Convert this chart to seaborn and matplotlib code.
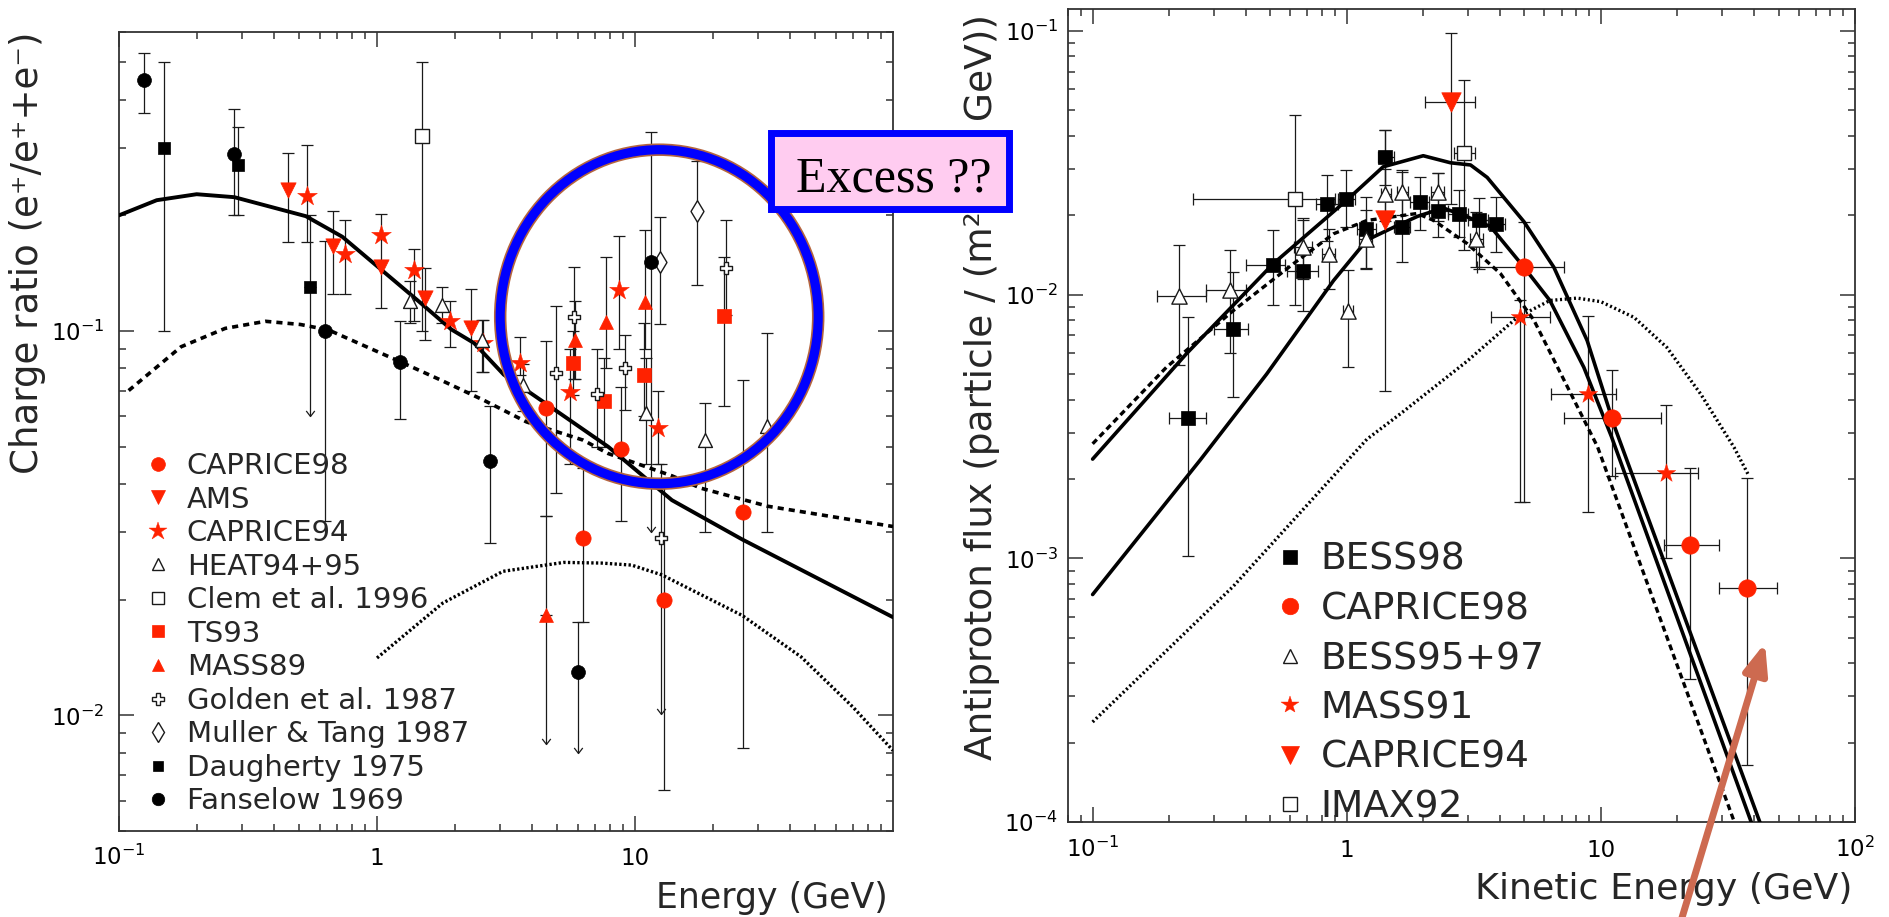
import numpy as np
import matplotlib
matplotlib.use("Agg")
import matplotlib.pyplot as plt
import seaborn as sns
from matplotlib.path import Path
from matplotlib.lines import Line2D
from matplotlib.patches import Ellipse, Rectangle
from matplotlib.ticker import FixedLocator, FixedFormatter, NullFormatter, LogLocator

# ===================== LEFT PANEL : positron charge ratio =====================
left_solid_E = [0.1, 0.14, 0.2, 0.28, 0.53, 0.733, 1.44, 1.94, 2.38, 3.1, 4.33, 7.87, 13.9, 26, 100]
left_solid_R = [0.20, 0.219, 0.227, 0.223, 0.199, 0.176, 0.12, 0.101, 0.093, 0.077, 0.066, 0.050, 0.0363, 0.0287, 0.018]
left_dash_E = [0.109, 0.174, 0.258, 0.37, 0.505, 0.65, 1.24, 1.77, 2.6, 3.8, 6.3, 7.87, 13.9, 18, 32.7, 100]
left_dash_R = [0.070, 0.091, 0.1016, 0.106, 0.104, 0.1006, 0.083, 0.0745, 0.066, 0.058, 0.052, 0.048, 0.042, 0.039, 0.035, 0.031]
left_dot_E = [1.0, 1.8, 3.08, 5.3, 7.4, 9.7, 12.7, 26, 44, 70, 100]
left_dot_R = [0.0141, 0.0196, 0.0237, 0.025, 0.0249, 0.0246, 0.0232, 0.0182, 0.0142, 0.0105, 0.0081]

c98_E = [4.5, 6.3, 8.8, 12.9, 26.2]
c98_R = [0.063, 0.029, 0.0492, 0.020, 0.0339]
c98_lo = [0.033, 0.0175, 0.032, 0.0064, 0.0082]
c98_hi = [0.094, 0.044, 0.0713, 0.040, 0.0745]

ams_E = [0.45, 0.676, 1.04, 1.54, 2.32]
ams_R = [0.233, 0.166, 0.147, 0.122, 0.1016]
ams_lo = [0.170, 0.125, 0.115, 0.095, 0.070]
ams_hi = [0.29, 0.205, 0.152, 0.146, 0.129]

c94_E = [0.536, 0.75, 1.04, 1.39, 1.92, 2.57, 3.57, 5.59, 8.67, 12.25]
c94_R = [0.224, 0.159, 0.178, 0.144, 0.106, 0.093, 0.0824, 0.0695, 0.128, 0.0558]
c94_lo = [0.17, 0.125, 0.152, 0.106, 0.091, 0.078, 0.077, 0.045, 0.090, 0.045]
c94_hi = [0.304, 0.194, 0.202, 0.163, 0.12, 0.107, 0.0966, 0.09, 0.177, 0.07]

heat_E = [1.34, 1.78, 2.55, 3.68, 11.0, 18.6, 32.5]
heat_R = [0.12, 0.117, 0.095, 0.0723, 0.0613, 0.052, 0.0566]
heat_lo = [0.105, 0.105, 0.078, 0.062, 0.045, 0.030, 0.030]
heat_hi = [0.135, 0.13, 0.107, 0.082, 0.085, 0.065, 0.099]

clem_E = [1.49]
clem_R = [0.321]
clem_lo = [0.1]
clem_hi = [0.5]

ts_E = [5.75, 7.57, 10.8, 22.2]
ts_R = [0.0824, 0.0659, 0.0768, 0.1096]
ts_lo = [0.068, 0.05, 0.06, 0.064]
ts_hi = [0.1, 0.085, 0.105, 0.156]

m89_E = [4.53, 5.84, 7.7, 10.9]
m89_R = [0.0182, 0.0948, 0.1057, 0.119]
m89_lo = [0.0084, 0.075, 0.08, 0.09]
m89_hi = [0.033, 0.12, 0.156, 0.183]
m89_lim = [True, False, False, False]

gold_E = [4.95, 5.8, 7.1, 9.14, 12.6, 22.6]
gold_R = [0.0776, 0.1086, 0.0686, 0.0802, 0.0289, 0.146]
gold_lo = [0.038, 0.075, 0.05, 0.0622, 0.0101, 0.11]
gold_hi = [0.116, 0.147, 0.09, 0.0977, 0.045, 0.194]
gold_lim = [False, False, False, False, True, False]

mt_E = [12.5, 17.4]
mt_R = [0.151, 0.205]
mt_lo = [0.104, 0.132]
mt_hi = [0.198, 0.277]

dau_E = [0.15, 0.29, 0.55]
dau_R = [0.30, 0.27, 0.13]
dau_lo = [0.1, 0.2, 0.06]
dau_hi = [0.5, 0.34, 0.2]
dau_lim = [False, False, True]

fan_E = [0.125, 0.28, 0.63, 1.23, 2.74, 6.0, 11.5]
fan_R = [0.45, 0.289, 0.1, 0.083, 0.046, 0.013, 0.151]
fan_lo = [0.37, 0.20, 0.032, 0.059, 0.028, 0.008, 0.030]
fan_hi = [0.53, 0.379, 0.171, 0.106, 0.064, 0.0175, 0.33]
fan_lim = [False, False, False, False, False, True, True]

left_legend_labels = ["CAPRICE98", "AMS", "CAPRICE94", "HEAT94+95", "Clem et al. 1996", "TS93",
                      "MASS89", "Golden et al. 1987", "Muller & Tang 1987", "Daugherty 1975", "Fanselow 1969"]

# ===================== RIGHT PANEL : antiproton flux =====================
r_up_E = [0.1, 0.234, 0.514, 1.0, 1.39, 2.0, 2.56, 3.07, 3.57, 4.98, 6.53, 8.83, 11.4, 46]
r_up_F = [0.00238, 0.00597, 0.0131, 0.0228, 0.0305, 0.0336, 0.0316, 0.031, 0.0278, 0.0189, 0.0127, 0.0067, 0.0031, 0.00008]
r_mid_E = [0.1, 0.265, 0.484, 0.887, 1.2, 1.53, 1.9, 2.4, 2.98, 3.68, 4.98, 6.3, 8.57, 11.0, 42.5]
r_mid_F = [0.00073, 0.00236, 0.005, 0.0113, 0.0161, 0.018, 0.0198, 0.0213, 0.0197, 0.0181, 0.0127, 0.0095, 0.0053, 0.0029, 0.00008]
r_dash_E = [0.1, 0.195, 0.358, 0.617, 0.887, 1.2, 1.89, 2.2, 2.98, 4.03, 5.45, 7.36, 9.7, 36.5]
r_dash_F = [0.00272, 0.0053, 0.0087, 0.0131, 0.017, 0.0191, 0.0203, 0.0191, 0.0156, 0.012, 0.008, 0.0045, 0.00265, 0.00008]
r_dot_E = [0.1, 0.358, 1.2, 1.63, 2.98, 4.69, 6.3, 8.07, 10, 13.5, 18.2, 24.7, 33.4, 38.2]
r_dot_F = [0.00024, 0.000785, 0.00283, 0.00354, 0.0056, 0.0082, 0.0095, 0.0097, 0.0094, 0.0082, 0.0063, 0.0042, 0.00264, 0.00206]

bess98_E = [0.238, 0.358, 0.514, 0.671, 0.834, 0.99, 1.19, 1.42, 1.65, 1.94, 2.28, 2.77, 3.3, 3.85]
bess98_F = [0.0034, 0.0074, 0.013, 0.0123, 0.0221, 0.0231, 0.0178, 0.0331, 0.0181, 0.0225, 0.0208, 0.0202, 0.0191, 0.0185]
bess98_lo = [0.00102, 0.0041, 0.0091, 0.0087, 0.0160, 0.018, 0.0126, 0.026, 0.0133, 0.0175, 0.0165, 0.0165, 0.0125, 0.0145]
bess98_hi = [0.0082, 0.0122, 0.0175, 0.0191, 0.0284, 0.0296, 0.0234, 0.042, 0.0292, 0.028, 0.0288, 0.025, 0.0232, 0.0235]
bess98_xlo = [0.2, 0.30, 0.40, 0.58, 0.76, 0.92, 1.1, 1.33, 1.53, 1.78, 2.1, 2.5, 3.0, 3.6]
bess98_xhi = [0.28, 0.41, 0.57, 0.77, 0.92, 1.08, 1.3, 1.53, 1.78, 2.1, 2.5, 3.0, 3.6, 4.2]

bess95_E = [0.219, 0.347, 0.67, 0.851, 1.01, 1.19, 1.42, 1.65, 2.28, 3.24]
bess95_F = [0.0099, 0.0104, 0.0152, 0.0143, 0.0087, 0.0163, 0.0241, 0.0244, 0.0244, 0.0163]
bess95_lo = [0.0054, 0.0060, 0.0115, 0.0105, 0.0053, 0.0125, 0.019, 0.020, 0.019, 0.0127]
bess95_hi = [0.0154, 0.0148, 0.0195, 0.0178, 0.0124, 0.021, 0.030, 0.0296, 0.029, 0.0205]
bess95_xlo = [0.18, 0.28, 0.62, 0.80, 0.97, 1.12, 1.36, 1.58, 2.15, 3.05]
bess95_xhi = [0.28, 0.40, 0.73, 0.90, 1.06, 1.26, 1.49, 1.74, 2.42, 3.45]

c98r_E = [4.98, 11.1, 22.4, 37.7]
c98r_F = [0.0127, 0.0034, 0.00112, 0.00077]
c98r_lo = [0.00163, 0.00205, 0.00035, 0.000165]
c98r_hi = [0.0189, 0.0052, 0.0022, 0.00202]
c98r_xlo = [3.26, 7.15, 17.7, 29.2]
c98r_xhi = [7.15, 17.2, 29.2, 49.2]

m91_E = [4.8, 8.9, 18.0]
m91_F = [0.0082, 0.0042, 0.00211]
m91_lo = [0.00163, 0.0015, 0.001]
m91_hi = [0.0095, 0.0083, 0.0038]
m91_xlo = [3.7, 6.34, 11.4]
m91_xhi = [6.28, 11.5, 24.2]

c94r_E = [1.42, 2.58]
c94r_F = [0.0191, 0.0538]
c94r_lo = [0.0043, 0.022]
c94r_hi = [0.042, 0.098]
c94r_xlo = [1.42, 2.04]
c94r_xhi = [1.42, 3.21]

imax_E = [0.625, 2.89]
imax_F = [0.0231, 0.0343]
imax_lo = [0.0091, 0.0147]
imax_hi = [0.0479, 0.065]
imax_xlo = [0.248, 2.64]
imax_xhi = [0.9, 3.21]

right_legend_labels = ["BESS98", "CAPRICE98", "BESS95+97", "MASS91", "CAPRICE94", "IMAX92"]

# ============================ styling ============================
sns.set_style("ticks")
plt.rcParams["font.family"] = ["DejaVu Sans"]
plt.rcParams["mathtext.default"] = "regular"

RED = "#ff2200"
INK = "#1a1a1a"
W, H = 1890, 917

fig = plt.figure(figsize=(18.9, 9.17), dpi=100)
axL = fig.add_axes([119 / W, 1 - 831 / H, 774 / W, 799 / H])
axR = fig.add_axes([1068 / W, 1 - 822.3 / H, 787 / W, 813 / H])

CHEVRON = Path([(-1.0, 1.3), (0.0, 0.0), (1.0, 1.3)], [Path.MOVETO, Path.LINETO, Path.LINETO])


def draw_points(ax, E, V, lo, hi, marker, face, edge, ms, xlo=None, xhi=None, lims=None, mew=1.0, cap=4.6):
    E = np.asarray(E, float)
    V = np.asarray(V, float)
    lo = np.asarray(lo, float)
    hi = np.asarray(hi, float)
    lims = np.zeros(len(E), bool) if lims is None else np.asarray(lims, bool)
    nl = ~lims
    xerr = None
    if xlo is not None:
        xlo = np.asarray(xlo, float)
        xhi = np.asarray(xhi, float)
    if nl.any():
        if xlo is not None:
            xerr = [E[nl] - xlo[nl], xhi[nl] - E[nl]]
        ax.errorbar(E[nl], V[nl], yerr=[V[nl] - lo[nl], hi[nl] - V[nl]], xerr=xerr, fmt="none",
                    ecolor=INK, elinewidth=0.9, capsize=cap, capthick=0.9, zorder=2)
    if lims.any():
        ax.errorbar(E[lims], V[lims], yerr=[np.zeros(lims.sum()), hi[lims] - V[lims]], fmt="none",
                    ecolor=INK, elinewidth=0.9, capsize=cap, capthick=0.9, zorder=2)
        ax.vlines(E[lims], lo[lims], V[lims], color=INK, lw=0.9, zorder=2)
        ax.plot(E[lims], lo[lims], ls="none", marker=CHEVRON, ms=8, mfc="none", mec=INK, mew=0.9, zorder=2)
    sns.scatterplot(x=E, y=V, ax=ax, marker=marker, s=ms ** 2, color=face, edgecolor=edge,
                    linewidth=mew, zorder=5, legend=False)


def style_axes(ax, xlim, ylim, xt, xtl, yt, ytl, xpad, ypad):
    ax.set_xscale("log")
    ax.set_yscale("log")
    ax.set_xlim(*xlim)
    ax.set_ylim(*ylim)
    ax.xaxis.set_major_locator(FixedLocator(xt))
    ax.xaxis.set_major_formatter(FixedFormatter(xtl))
    ax.yaxis.set_major_locator(FixedLocator(yt))
    ax.yaxis.set_major_formatter(FixedFormatter(ytl))
    for a in (ax.xaxis, ax.yaxis):
        a.set_minor_locator(LogLocator(base=10, subs=np.arange(2, 10), numticks=60))
        a.set_minor_formatter(NullFormatter())
    ax.tick_params(which="both", direction="in", top=True, right=True, width=1.1, color="#333333",
                   labelsize=16.5, labelcolor="black")
    ax.tick_params(which="major", length=11)
    ax.tick_params(which="minor", length=5)
    ax.tick_params(axis="x", which="major", pad=xpad)
    ax.tick_params(axis="y", which="major", pad=ypad)
    for s in ax.spines.values():
        s.set_linewidth(1.3)
        s.set_color("#333333")
    ax.grid(False)


# ---------------- left panel ----------------
style_axes(axL, (0.1, 100), (0.005, 0.6), [0.1, 1, 10], ["$10^{-1}$", "1", "10"],
           [0.01, 0.1], ["$10^{-2}$", "$10^{-1}$"], 24.5, 10.5)

sns.lineplot(x=left_solid_E, y=left_solid_R, ax=axL, color="black", lw=2.8, sort=False, estimator=None, zorder=3)
sns.lineplot(x=left_dash_E, y=left_dash_R, ax=axL, color="black", lw=2.6, linestyle=(0, (1.7, 1.4)),
             sort=False, estimator=None, zorder=3)
sns.lineplot(x=left_dot_E, y=left_dot_R, ax=axL, color="black", lw=2.4, linestyle=(0, (0.7, 0.7)),
             sort=False, estimator=None, zorder=3)

left_styles = [
    ("o", RED, RED, 11, 0.5),
    ("v", RED, RED, 11, 0.5),
    ("*", RED, RED, 15, 0.3),
    ("^", "white", INK, 10, 1.0),
    ("s", "white", INK, 9.5, 1.0),
    ("s", RED, RED, 9.5, 0.5),
    ("^", RED, RED, 10, 0.5),
    ("P", "white", INK, 9, 1.0),
    ("d", "white", INK, 11, 1.0),
    ("s", "black", "black", 8, 0.5),
    ("o", "black", "black", 10, 0.5),
]
left_data = [
    (c98_E, c98_R, c98_lo, c98_hi, None),
    (ams_E, ams_R, ams_lo, ams_hi, None),
    (c94_E, c94_R, c94_lo, c94_hi, None),
    (heat_E, heat_R, heat_lo, heat_hi, None),
    (clem_E, clem_R, clem_lo, clem_hi, None),
    (ts_E, ts_R, ts_lo, ts_hi, None),
    (m89_E, m89_R, m89_lo, m89_hi, m89_lim),
    (gold_E, gold_R, gold_lo, gold_hi, gold_lim),
    (mt_E, mt_R, mt_lo, mt_hi, None),
    (dau_E, dau_R, dau_lo, dau_hi, dau_lim),
    (fan_E, fan_R, fan_lo, fan_hi, fan_lim),
]
for (E, V, lo, hi, lim), (mk, fc, ec, ms, mew) in zip(left_data, left_styles):
    draw_points(axL, E, V, lo, hi, mk, fc, ec, ms, lims=lim, mew=mew, cap=4.6)

left_handles = [Line2D([], [], ls="none", marker=mk, ms=ms * 0.9, mfc=fc, mec=ec, mew=mew)
                for (mk, fc, ec, ms, mew) in left_styles]
axL.legend(left_handles, left_legend_labels, loc="upper left", bbox_to_anchor=(146 / W, 1 - 452 / H),
           bbox_transform=fig.transFigure, frameon=False, fontsize=21, handlelength=0.8,
           handletextpad=0.6, labelspacing=0.19, borderpad=0, borderaxespad=0, numpoints=1)

axL.set_xlabel("Energy (GeV)", fontsize=25, loc="right")
axL.xaxis.set_label_coords(0.9935, -0.0626)
axL.set_ylabel("Charge ratio (e⁺/e⁺+e⁻)", fontsize=26.7, loc="top")
axL.yaxis.set_label_coords(-0.094, 1.0)

# ---------------- right panel ----------------
style_axes(axR, (0.08, 100), (1e-4, 0.1206), [0.1, 1, 10, 100], ["$10^{-1}$", "1", "10", "$10^{2}$"],
           [1e-4, 1e-3, 1e-2, 1e-1], ["$10^{-4}$", "$10^{-3}$", "$10^{-2}$", "$10^{-1}$"], 25, 7)

sns.lineplot(x=r_up_E, y=r_up_F, ax=axR, color="black", lw=2.6, sort=False, estimator=None, zorder=3)
sns.lineplot(x=r_mid_E, y=r_mid_F, ax=axR, color="black", lw=2.6, sort=False, estimator=None, zorder=3)
sns.lineplot(x=r_dash_E, y=r_dash_F, ax=axR, color="black", lw=2.4, linestyle=(0, (1.8, 1.2)),
             sort=False, estimator=None, zorder=3)
sns.lineplot(x=r_dot_E, y=r_dot_F, ax=axR, color="black", lw=2.4, linestyle=(0, (0.6, 0.8)),
             sort=False, estimator=None, zorder=3)

right_styles = [
    ("s", "black", "black", 10.5, 0.5),
    ("o", RED, RED, 12.5, 0.5),
    ("^", "white", INK, 11, 1.0),
    ("*", RED, RED, 14, 0.3),
    ("v", RED, RED, 14, 0.5),
    ("s", "white", INK, 10, 1.0),
]
right_data = [
    (bess98_E, bess98_F, bess98_lo, bess98_hi, bess98_xlo, bess98_xhi),
    (c98r_E, c98r_F, c98r_lo, c98r_hi, c98r_xlo, c98r_xhi),
    (bess95_E, bess95_F, bess95_lo, bess95_hi, bess95_xlo, bess95_xhi),
    (m91_E, m91_F, m91_lo, m91_hi, m91_xlo, m91_xhi),
    (c94r_E, c94r_F, c94r_lo, c94r_hi, c94r_xlo, c94r_xhi),
    (imax_E, imax_F, imax_lo, imax_hi, imax_xlo, imax_xhi),
]
for (E, V, lo, hi, xlo, xhi), (mk, fc, ec, ms, mew) in zip(right_data, right_styles):
    draw_points(axR, E, V, lo, hi, mk, fc, ec, ms, xlo=xlo, xhi=xhi, mew=mew, cap=4.3)

right_handles = [Line2D([], [], ls="none", marker=mk, ms=ms * 0.95, mfc=fc, mec=ec, mew=mew)
                 for (mk, fc, ec, ms, mew) in right_styles]
axR.legend(right_handles, right_legend_labels, loc="upper left", bbox_to_anchor=(1275 / W, 1 - 542 / H),
           bbox_transform=fig.transFigure, frameon=False, fontsize=27, handlelength=0.8,
           handletextpad=0.42, labelspacing=0.36, borderpad=0, borderaxespad=0, numpoints=1)

axR.set_xlabel("Kinetic Energy (GeV)", fontsize=26.2, loc="right")
axR.xaxis.set_label_coords(0.9962, -0.0617)
axR.set_ylabel("Antiproton flux (particle / (m² s sr GeV))", fontsize=27, loc="top")
axR.yaxis.set_label_coords(-0.0864, 0.994)

# tick labels share a common baseline on the x axes
fig.canvas.draw()
for ax in (axL, axR):
    for t in ax.xaxis.get_major_ticks():
        t.label1.set_verticalalignment("baseline")

# ---------------- annotations ----------------
cx, cy, a, b = 659.2, 316.7, 159, 167
fig.add_artist(Ellipse((cx / W, 1 - cy / H), 2 * a / W, 2 * b / H, transform=fig.transFigure,
                       fill=False, edgecolor="#b5653f", lw=9.0, zorder=20))
fig.add_artist(Ellipse((cx / W, 1 - cy / H), 2 * a / W, 2 * b / H, transform=fig.transFigure,
                       fill=False, edgecolor="#0000ff", lw=6.6, zorder=21))

fig.add_artist(Rectangle((771.5 / W, 1 - 208.5 / H), 238 / W, 75 / H, transform=fig.transFigure,
                         facecolor="#ffccf0", edgecolor="#0000ff", lw=5, zorder=22))
fig.text(893.5 / W, 1 - 192 / H, "Excess ??", ha="center", va="baseline", fontsize=36,
         family=["Liberation Serif", "DejaVu Serif"], color="black", zorder=23)

axR.annotate("", xy=(1765, H - 643), xycoords="figure pixels", xytext=(1681, -4), textcoords="figure pixels",
             arrowprops=dict(arrowstyle="-|>,head_length=0.9,head_width=0.36", color="#cd6a50", lw=5,
                             shrinkA=0, shrinkB=0, mutation_scale=20),
             annotation_clip=False, zorder=24)

fig.savefig("out.png", dpi=100)
